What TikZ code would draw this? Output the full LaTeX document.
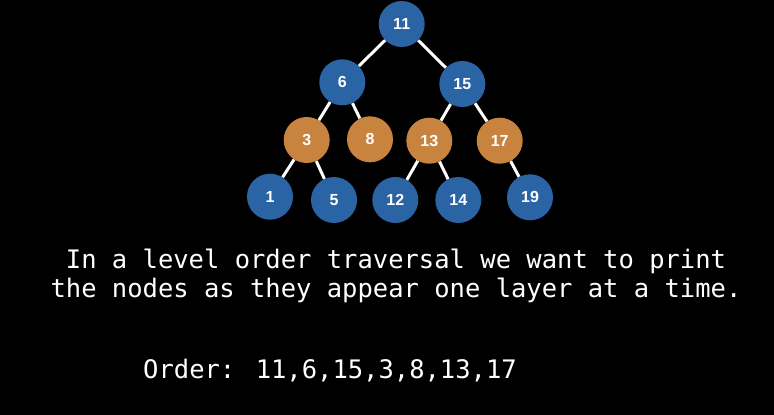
\documentclass[tikz,border=0pt]{standalone}
\usepackage{fontspec}
\setmainfont{Liberation Sans}
\newfontfamily\monofnt{DejaVu Sans Mono}
\definecolor{nblue}{HTML}{2A64A4}
\definecolor{norange}{HTML}{C8843F}
\begin{document}
\begin{tikzpicture}[x=1pt,y=-1pt,
  tn/.style={circle,minimum size=46pt,inner sep=0pt,text=white,font=\fontsize{16}{16}\selectfont\bfseries},
  bn/.style={tn,fill=nblue},
  on/.style={tn,fill=norange},
  edge/.style={draw=white,line width=3pt},
  txt/.style={text=white,font=\monofnt\fontsize{25.5}{29}\selectfont,inner sep=0pt}]
\fill[black] (0,0) rectangle (774,415);
\useasboundingbox (0,0) rectangle (774,415);
\node[bn] (n11) at (401.7,24) {11};
\node[bn] (n6) at (342.3,82.3) {6};
\node[bn] (n15) at (462.3,84) {15};
\node[on] (n3) at (306.7,140) {3};
\node[on] (n8) at (370,139.3) {8};
\node[on] (n13) at (429.3,140.7) {13};
\node[on] (n17) at (499.7,140.7) {17};
\node[bn] (n1) at (270,196.7) {1};
\node[bn] (n5) at (334,200) {5};
\node[bn] (n12) at (395.3,200) {12};
\node[bn] (n14) at (458.3,200) {14};
\node[bn] (n19) at (530,197.3) {19};
\foreach \a/\b in {n11/n6,n11/n15,n6/n3,n6/n8,n15/n13,n15/n17,n3/n1,n3/n5,n13/n12,n13/n14,n17/n19}
  \draw[edge] (\a) -- (\b);
\node[txt,anchor=base] (l1) at (396,268) {In a level order traversal we want to print};
\node[txt,anchor=base] (l2) at (396,297) {the nodes as they appear one layer at a time.};
\node[txt,anchor=base west] (ord) at (143,378) {Order: 11,6,15,3,8,13,17};
\end{tikzpicture}
\end{document}
